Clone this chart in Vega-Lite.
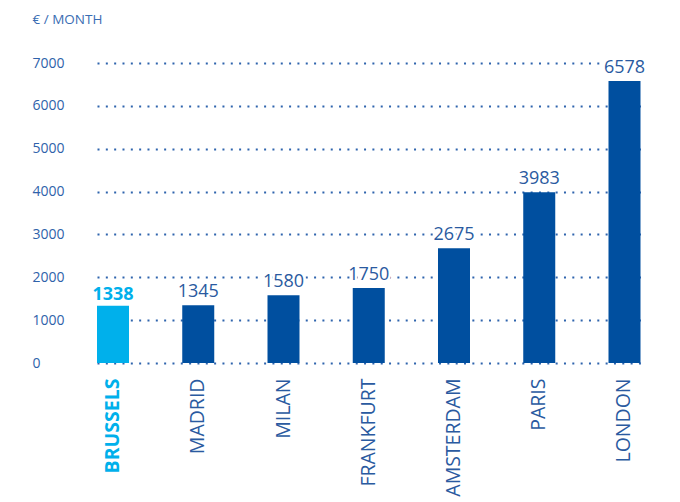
{
  "$schema": "https://vega.github.io/schema/vega-lite/v6.json",
  "autosize": {"type": "none"},
  "width": 543.5,
  "height": 300,
  "padding": {"left": 97, "top": 63, "right": 39.5, "bottom": 139},
  "background": "white",
  "config": {
    "view": {"stroke": null},
    "font": "Open Sans"
  },
  "data": {
    "values": [
      {"city": "BRUSSELS", "value": 1338},
      {"city": "MADRID", "value": 1345},
      {"city": "MILAN", "value": 1580},
      {"city": "FRANKFURT", "value": 1750},
      {"city": "AMSTERDAM", "value": 2675},
      {"city": "PARIS", "value": 3983},
      {"city": "LONDON", "value": 6578}
    ]
  },
  "encoding": {
    "x": {
      "field": "city",
      "type": "nominal",
      "sort": null,
      "scale": {"paddingInner": 0.6246, "paddingOuter": 0},
      "axis": {
        "title": null,
        "domain": false,
        "ticks": false,
        "tickSize": 0,
        "labelAngle": -90,
        "labelAlign": "right",
        "labelBaseline": "middle",
        "labelPadding": 15,
        "labelFontSize": 19.5,
        "labelLimit": 300,
        "labelFont": "Open Sans",
        "labelColor": {"condition": {"test": "datum.value === 'BRUSSELS'", "value": "#00b0eb"}, "value": "#2a5aa0"},
        "labelFontWeight": {"condition": {"test": "datum.value === 'BRUSSELS'", "value": "bold"}, "value": "normal"}
      }
    }
  },
  "layer": [
    {
      "mark": {"type": "bar"},
      "encoding": {
        "y": {
          "field": "value",
          "type": "quantitative",
          "scale": {"domain": [0, 7000], "nice": false},
          "axis": {
            "values": [0, 1000, 2000, 3000, 4000, 5000, 6000, 7000],
            "format": "d",
            "title": "€ / MONTH",
            "titleAngle": 0,
            "titleX": -65,
            "titleY": -40,
            "titleAlign": "left",
            "titleBaseline": "alphabetic",
            "titleFontSize": 13.5,
            "titleFontWeight": "normal",
            "titleColor": "#3a6db3",
            "titleFont": "Open Sans",
            "domain": false,
            "ticks": false,
            "tickSize": 0,
            "labelAlign": "left",
            "labelBaseline": "middle",
            "labelPadding": 65,
            "labelFontSize": 14,
            "labelColor": "#2f62aa",
            "labelFont": "Open Sans",
            "grid": true,
            "gridColor": "#2f64ad",
            "gridDash": [2, 6.33],
            "gridWidth": 2,
            "gridCap": "butt"
          }
        },
        "color": {
          "condition": {"test": "datum.city === 'BRUSSELS'", "value": "#00b0eb"},
          "value": "#004f9f"
        }
      }
    },
    {
      "transform": [{"filter": "datum.city !== 'BRUSSELS'"}],
      "mark": {"type": "text", "dy": -8, "baseline": "alphabetic", "align": "center", "fontSize": 18, "font": "Open Sans", "color": "white", "stroke": "white", "strokeWidth": 5},
      "encoding": {
        "y": {"field": "value", "type": "quantitative"},
        "text": {"field": "value", "type": "quantitative", "format": "d"}
      }
    },
    {
      "transform": [{"filter": "datum.city !== 'BRUSSELS'"}],
      "mark": {"type": "text", "dy": -8, "baseline": "alphabetic", "align": "center", "fontSize": 18, "font": "Open Sans", "color": "#2a5aa0"},
      "encoding": {
        "y": {"field": "value", "type": "quantitative"},
        "text": {"field": "value", "type": "quantitative", "format": "d"}
      }
    },
    {
      "transform": [{"filter": "datum.city === 'BRUSSELS'"}],
      "mark": {"type": "text", "dy": -6, "baseline": "alphabetic", "align": "center", "fontSize": 18, "fontWeight": "bold", "font": "Open Sans", "color": "#00b0eb"},
      "encoding": {
        "y": {"field": "value", "type": "quantitative"},
        "text": {"field": "value", "type": "quantitative", "format": "d"}
      }
    }
  ]
}
